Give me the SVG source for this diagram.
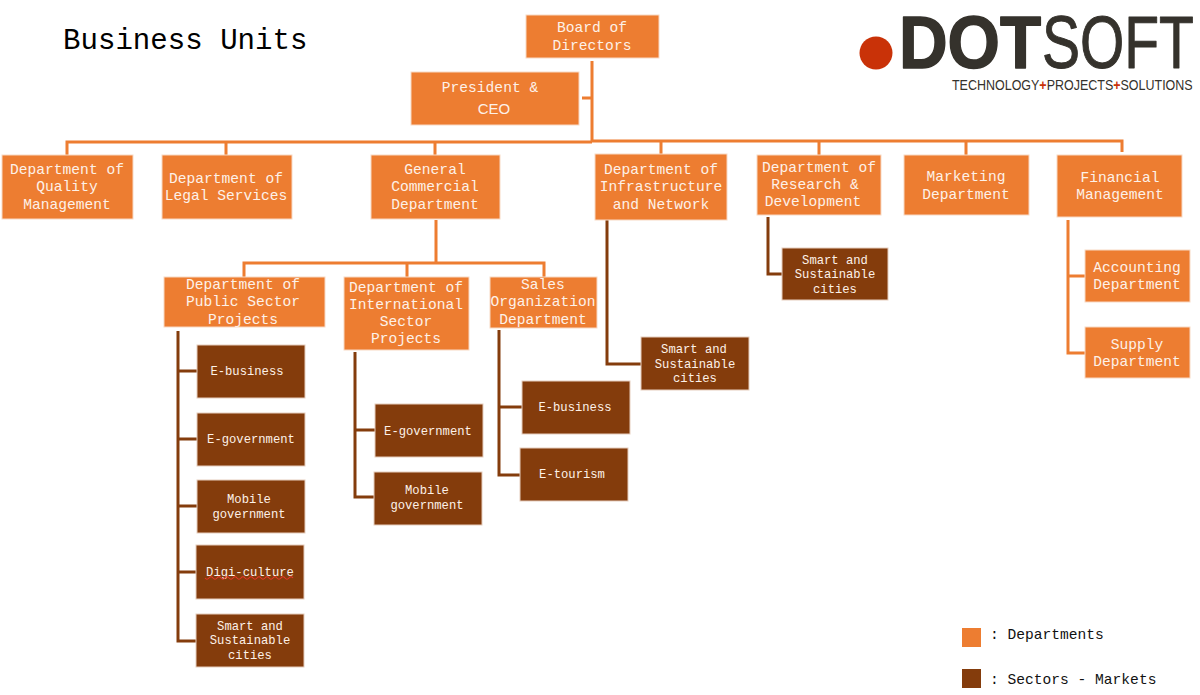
<svg xmlns="http://www.w3.org/2000/svg" width="1200" height="695" viewBox="0 0 1200 695">
<style>
text{font-family:"Liberation Mono","DejaVu Sans Mono",monospace;text-anchor:middle;fill:#fdf1e8}
.d{fill:#ed7d31;stroke:#f8d9c4;stroke-width:1}
.s{fill:#843c0c;stroke:#e6cdbd;stroke-width:1}
.t{font-size:14.6px}
.u{font-size:12.2px}
.c path{fill:none;stroke-width:3}
.o{stroke:#ed7d31}
.b{stroke:#843c0c}
.k{fill:#000;font-size:29.1px;text-anchor:start}
.l{fill:#111;font-size:14.6px;text-anchor:start}
.logo{font-family:"Liberation Sans","Open Sans",sans-serif;text-anchor:start;fill:#35322c}
</style>
<rect width="1200" height="695" fill="#fff"/>
<text class="k" x="63" y="49" id="title">Business Units</text>
<g id="logo">
<circle cx="876" cy="53" r="16.500" fill="#c93208"/>
<text class="logo" transform="translate(899 68) scale(.91 1)" font-size="74" font-weight="700" style="stroke:#35322c;stroke-width:1.500;stroke-linejoin:round">DOT</text>
<text class="logo" transform="translate(1042 68) scale(.77 1)" font-size="74" style="stroke:#35322c;stroke-width:1;stroke-linejoin:round">SOFT</text>
<text class="logo" transform="translate(952 90) scale(.806 1)" font-size="15.500">TECHNOLOGY<tspan fill="#c93208" font-weight="700">+</tspan>PROJECTS<tspan fill="#c93208" font-weight="700">+</tspan>SOLUTIONS</text>
</g>
<g id="connectors" class="c">
<path class="o" d="M592 61V142M582 98H592M67 155V142H592M226 155V142M435 155V142M592 141H1122V152M661 154V141M819 155V141M966 155V141"/>
<path class="o" d="M436 220V263M244 277V263H544V277M407 277V263"/>
<path class="o" d="M1068 220V353H1085M1068 276H1085"/>
<path class="b" d="M178 331V641H196M178 371H197M178 439H197M178 506H197M178 572H196"/>
<path class="b" d="M355 352V497H374M355 430H375"/>
<path class="b" d="M499 330V475H520M499 407H522"/>
<path class="b" d="M607 220V364H641"/>
<path class="b" d="M768 217V274H782"/>
</g>
<g id="board"><rect class="d" x="526" y="15" width="133" height="43"/><text class="t" x="592" y="32">Board of</text><text class="t" x="592" y="50">Directors</text></g>
<g id="president"><rect class="d" x="411" y="72" width="168" height="53"/><text class="t" x="490" y="92">President &amp;</text><text x="494" y="114" font-size="15" style="font-family:'Liberation Sans',sans-serif">CEO</text></g>
<g id="quality"><rect class="d" x="2" y="155" width="131" height="64"/><text class="t" x="67" y="174">Department of</text><text class="t" x="67" y="191">Quality</text><text class="t" x="67" y="209">Management</text></g>
<g id="legal"><rect class="d" x="162" y="155" width="130" height="64"/><text class="t" x="226" y="183">Department of</text><text class="t" x="226" y="200">Legal Services</text></g>
<g id="general"><rect class="d" x="371" y="155" width="129" height="64"/><text class="t" x="435" y="174">General</text><text class="t" x="435" y="191">Commercial</text><text class="t" x="435" y="209">Department</text></g>
<g id="infrastructure"><rect class="d" x="595" y="154" width="132" height="66"/><text class="t" x="661" y="174">Department of</text><text class="t" x="661" y="191">Infrastructure</text><text class="t" x="661" y="209">and Network</text></g>
<g id="research"><rect class="d" x="757" y="155" width="124" height="60"/><text class="t" x="819" y="172">Department of</text><text class="t" x="815" y="189">Research &amp;</text><text class="t" x="813" y="206">Development</text></g>
<g id="marketing"><rect class="d" x="904" y="155" width="125" height="60"/><text class="t" x="966" y="181">Marketing</text><text class="t" x="966" y="199">Department</text></g>
<g id="financial"><rect class="d" x="1057" y="155" width="125" height="62"/><text class="t" x="1120" y="182">Financial</text><text class="t" x="1120" y="199">Management</text></g>
<g id="public"><rect class="d" x="164" y="277" width="161" height="50"/><text class="t" x="243" y="289">Department of</text><text class="t" x="243" y="306">Public Sector</text><text class="t" x="243" y="324">Projects</text></g>
<g id="international"><rect class="d" x="344" y="277" width="125" height="73"/><text class="t" x="406" y="292">Department of</text><text class="t" x="406" y="309">International</text><text class="t" x="406" y="326">Sector</text><text class="t" x="406" y="343">Projects</text></g>
<g id="sales"><rect class="d" x="490" y="277" width="107" height="51"/><text class="t" x="543" y="289">Sales</text><text class="t" x="543" y="306">Organization</text><text class="t" x="543" y="324">Department</text></g>
<g id="pub-ebusiness"><rect class="s" x="197" y="345" width="108" height="53"/><text class="u" x="247" y="375">E-business</text></g>
<g id="pub-egov"><rect class="s" x="197" y="413" width="108" height="53"/><text class="u" x="251" y="443">E-government</text></g>
<g id="pub-mobile"><rect class="s" x="197" y="480" width="108" height="53"/><text class="u" x="249" y="503">Mobile</text><text class="u" x="249" y="518">government</text></g>
<g id="pub-digi"><rect class="s" x="196" y="545" width="108" height="54"/><text class="u" x="250" y="576">Digi-culture</text><path d="M205 578q2 2.500 4 0t4 0 4 0 4 0 4 0 4 0 4 0 4 0 4 0 4 0 4 0 4 0 4 0 4 0 4 0 4 0 4 0 4 0 4 0 4 0 4 0 4 0" fill="none" stroke="#e8392a" stroke-width="1.100"/></g>
<g id="pub-smart"><rect class="s" x="196" y="614" width="108" height="53"/><text class="u" x="250" y="630">Smart and</text><text class="u" x="250" y="644">Sustainable</text><text class="u" x="250" y="659">cities</text></g>
<g id="int-egov"><rect class="s" x="375" y="404" width="108" height="53"/><text class="u" x="428" y="435">E-government</text></g>
<g id="int-mobile"><rect class="s" x="374" y="472" width="108" height="53"/><text class="u" x="427" y="494">Mobile</text><text class="u" x="427" y="509">government</text></g>
<g id="sales-ebusiness"><rect class="s" x="522" y="381" width="108" height="53"/><text class="u" x="575" y="411">E-business</text></g>
<g id="sales-etourism"><rect class="s" x="520" y="448" width="108" height="53"/><text class="u" x="572" y="478">E-tourism</text></g>
<g id="infra-smart"><rect class="s" x="641" y="337" width="108" height="53"/><text class="u" x="694" y="353">Smart and</text><text class="u" x="695" y="368">Sustainable</text><text class="u" x="695" y="382">cities</text></g>
<g id="rd-smart"><rect class="s" x="782" y="248" width="106" height="52"/><text class="u" x="835" y="264">Smart and</text><text class="u" x="835" y="278">Sustainable</text><text class="u" x="835" y="293">cities</text></g>
<g id="accounting"><rect class="d" x="1085" y="250" width="105" height="52"/><text class="t" x="1137" y="272">Accounting</text><text class="t" x="1137" y="289">Department</text></g>
<g id="supply"><rect class="d" x="1085" y="327" width="105" height="51"/><text class="t" x="1137" y="349">Supply</text><text class="t" x="1137" y="366">Department</text></g>
<g id="legend-departments"><rect x="962" y="628" width="19" height="19" fill="#ed7d31"/><text class="l" x="990" y="639">: Departments</text></g>
<g id="legend-sectors"><rect x="962" y="669" width="19" height="19" fill="#843c0c"/><text class="l" x="990" y="684">: Sectors - Markets</text></g>
</svg>
